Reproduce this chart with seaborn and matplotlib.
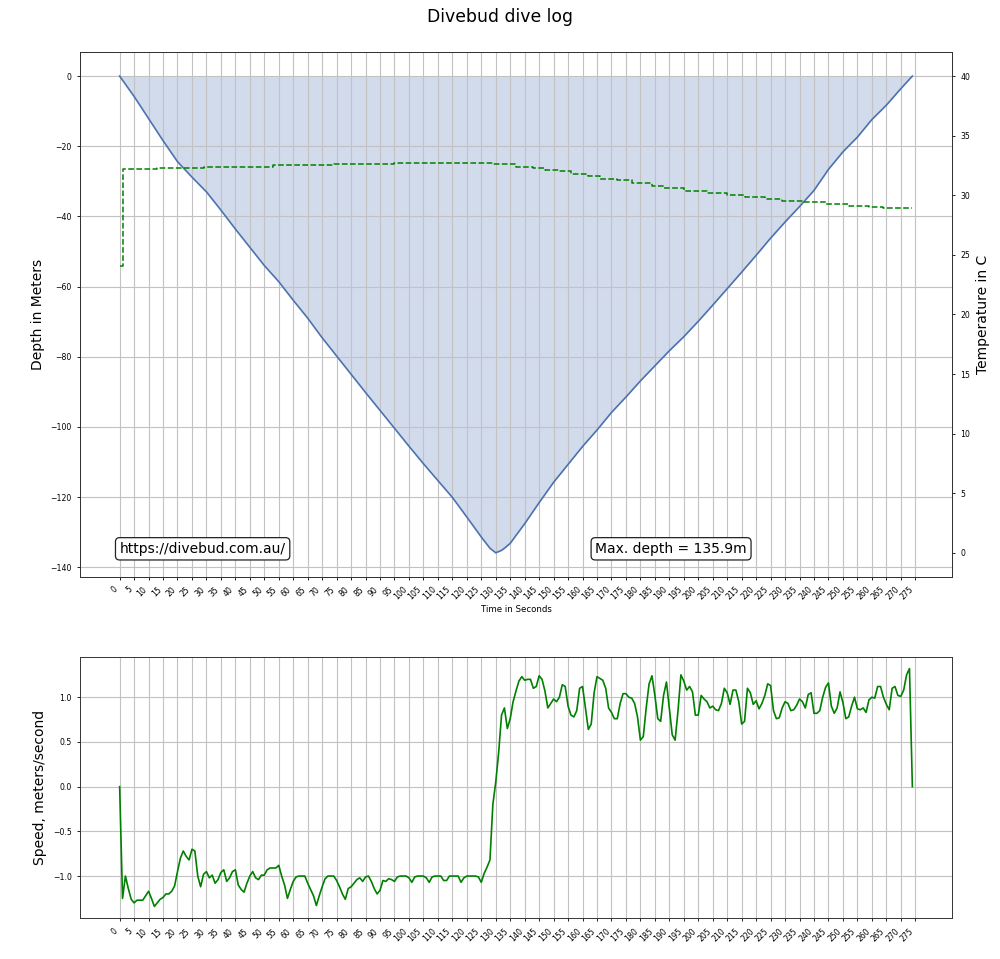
import numpy as np
import pandas as pd
import matplotlib
matplotlib.use("Agg")
import matplotlib.pyplot as plt
import seaborn as sns

# ---------------- data ----------------
depth_time = [0, 5, 10, 15, 20, 25, 30, 35, 40, 45, 50, 55, 60, 65, 70, 75, 80, 85,
              90, 95, 100, 105, 110, 115, 120, 125, 128, 130, 132, 133, 135, 140,
              145, 150, 155, 160, 165, 170, 175, 180, 185, 190, 195, 200, 205, 210,
              215, 220, 225, 230, 235, 240, 245, 250, 255, 260, 265, 270, 274]
depth_m = [0.0, -5.8, -12.1, -18.4, -24.4, -28.8, -33.0, -38.2, -43.6, -48.8, -54.0,
           -58.6, -63.9, -69.0, -74.6, -79.8, -85.0, -90.2, -95.3, -100.4, -105.5,
           -110.5, -115.3, -120.1, -125.7, -131.4, -134.6, -135.9, -135.2, -134.6,
           -133.2, -127.6, -121.6, -115.8, -110.7, -105.6, -100.9, -95.9, -91.5,
           -86.9, -82.6, -78.3, -74.3, -69.9, -65.3, -60.6, -55.9, -51.1, -46.2,
           -41.6, -37.2, -32.6, -26.6, -21.6, -17.4, -12.4, -8.3, -3.6, 0.0]

temp_time = [0, 1, 13, 29, 53, 74, 95, 129, 137, 143, 147, 152, 156, 162, 166, 172,
             177, 184, 188, 195, 203, 210, 216, 223, 229, 236, 244, 252, 259, 264, 274]
temp_c = [24.1, 32.2, 32.3, 32.4, 32.5, 32.6, 32.7, 32.6, 32.4, 32.3, 32.15, 32.0,
          31.8, 31.6, 31.4, 31.25, 31.05, 30.8, 30.6, 30.4, 30.2, 30.05, 29.85, 29.7,
          29.55, 29.4, 29.25, 29.1, 29.0, 28.9, 28.9]

speed_time = list(range(0, 275))
speed_ms = [
    0.00, -1.25, -1.00, -1.14, -1.26, -1.30, -1.27, -1.27, -1.27, -1.22,   # 0-9
    -1.17, -1.25, -1.34, -1.30, -1.26, -1.24, -1.20, -1.20, -1.17, -1.11,  # 10-19
    -0.95, -0.80, -0.72, -0.78, -0.82, -0.70, -0.72, -1.00, -1.12, -0.98,  # 20-29
    -0.95, -1.02, -0.99, -1.08, -1.04, -0.96, -0.93, -1.06, -1.02, -0.95,  # 30-39
    -0.93, -1.10, -1.15, -1.18, -1.08, -1.00, -0.95, -1.02, -1.04, -0.99,  # 40-49
    -0.99, -0.93, -0.91, -0.91, -0.91, -0.88, -1.00, -1.10, -1.25, -1.15,  # 50-59
    -1.06, -1.01, -1.00, -1.00, -1.00, -1.08, -1.15, -1.22, -1.33, -1.22,  # 60-69
    -1.12, -1.03, -1.00, -1.00, -1.00, -1.05, -1.12, -1.20, -1.26, -1.14,  # 70-79
    -1.12, -1.08, -1.04, -1.02, -1.06, -1.01, -1.00, -1.06, -1.14, -1.20,  # 80-89
    -1.16, -1.05, -1.06, -1.03, -1.04, -1.06, -1.01, -1.00, -1.00, -1.00,  # 90-99
    -1.02, -1.07, -1.01, -1.00, -1.00, -1.00, -1.02, -1.07, -1.01, -1.00,  # 100-109
    -1.00, -1.00, -1.05, -1.05, -1.00, -1.00, -1.00, -1.00, -1.07, -1.02,  # 110-119
    -1.00, -1.00, -1.00, -1.00, -1.01, -1.07, -0.97, -0.90, -0.82, -0.20,  # 120-129
    0.05, 0.38, 0.80, 0.88, 0.65, 0.76, 0.95, 1.07, 1.18, 1.23,            # 130-139
    1.19, 1.20, 1.20, 1.10, 1.12, 1.24, 1.20, 1.07, 0.88, 0.93,            # 140-149
    0.98, 0.95, 1.00, 1.14, 1.12, 0.90, 0.80, 0.78, 0.85, 1.10,            # 150-159
    1.12, 0.88, 0.64, 0.70, 1.05, 1.23, 1.21, 1.19, 1.10, 0.88,            # 160-169
    0.83, 0.76, 0.76, 0.93, 1.04, 1.04, 1.00, 0.99, 0.93, 0.78,            # 170-179
    0.52, 0.56, 0.88, 1.15, 1.24, 1.02, 0.76, 0.73, 1.02, 1.17,            # 180-189
    0.87, 0.58, 0.52, 0.85, 1.25, 1.18, 1.08, 1.12, 1.06, 0.80,            # 190-199
    0.80, 1.02, 0.98, 0.95, 0.88, 0.90, 0.86, 0.85, 0.93, 1.10,            # 200-209
    1.05, 0.92, 1.08, 1.08, 0.95, 0.70, 0.73, 1.10, 1.05, 0.92,            # 210-219
    0.96, 0.87, 0.93, 1.02, 1.15, 1.13, 0.85, 0.76, 0.77, 0.88,            # 220-229
    0.95, 0.93, 0.85, 0.86, 0.91, 0.98, 0.95, 0.88, 1.03, 1.05,            # 230-239
    0.82, 0.82, 0.85, 1.00, 1.11, 1.16, 0.90, 0.82, 0.88, 1.06,            # 240-249
    0.94, 0.76, 0.78, 0.90, 1.00, 0.87, 0.86, 0.88, 0.83, 0.97,            # 250-259
    1.00, 0.99, 1.12, 1.12, 1.00, 0.92, 0.86, 1.10, 1.12, 1.02,            # 260-269
    1.01, 1.08, 1.25, 1.32, 0.00,                                          # 270-274
]

tick_seconds = list(range(0, 276, 5))
temp_ticks = list(range(0, 41, 5))

title_text = "Divebud dive log"
url_text = "https://divebud.com.au/"

# ---------------- figure ----------------
fig = plt.figure(figsize=(10, 9.59), dpi=100)
ax = fig.add_axes([0.08, 0.3987, 0.872, 0.5468])
ax_sp = fig.add_axes([0.08, 0.0424, 0.872, 0.2728])

blue = sns.color_palette("deep")[0]
grid_kw = dict(color="#c2c2c2", linewidth=0.8)
tick_fs = 5.6

df_depth = pd.DataFrame({"t": depth_time, "d": depth_m})
df_temp = pd.DataFrame({"t": temp_time, "c": temp_c})
df_speed = pd.DataFrame({"t": speed_time, "v": speed_ms})

# depth
ax.fill_between(df_depth["t"], df_depth["d"], 0, color=blue, alpha=0.25, linewidth=0)
sns.lineplot(data=df_depth, x="t", y="d", ax=ax, color=blue, linewidth=1.2)
ax.grid(True, **grid_kw)
ax.set_xticks(tick_seconds)
ax.set_xticklabels([str(s) for s in tick_seconds], rotation=45, ha="right")
ax.set_xlabel("Time in Seconds", fontsize=6.2, labelpad=2)
ax.set_ylabel("Depth in Meters", fontsize=10)
ax.tick_params(labelsize=tick_fs, length=2.5, width=0.6)

max_depth = -min(depth_m)
box = dict(boxstyle="round", facecolor="white", edgecolor="#222222", linewidth=0.9)
ax.text(0, -max_depth, url_text, fontsize=10, bbox=box)
ax.text(0.6 * max(depth_time), -max_depth, f"Max. depth = {max_depth:.1f}m",
        fontsize=10, bbox=box)

# temperature
ax2 = ax.twinx()
sns.lineplot(data=df_temp, x="t", y="c", ax=ax2, color="green", linewidth=1.1,
             linestyle="--", drawstyle="steps-post")
ax2.set_ylim(-2, 42)
ax2.set_yticks(temp_ticks)
ax2.set_ylabel("Temperature in C", fontsize=10)
ax2.tick_params(labelsize=tick_fs, length=2.5, width=0.6)
ax2.grid(False)

# speed
sns.lineplot(data=df_speed, x="t", y="v", ax=ax_sp, color="green", linewidth=1.2)
ax_sp.grid(True, **grid_kw)
ax_sp.set_xticks(tick_seconds)
ax_sp.set_xticklabels([str(s) for s in tick_seconds], rotation=45, ha="right")
ax_sp.set_xlabel("")
ax_sp.set_ylabel("Speed, meters/second", fontsize=10)
ax_sp.tick_params(labelsize=tick_fs, length=2.5, width=0.6)

for a in (ax, ax2, ax_sp):
    for s in a.spines.values():
        s.set_color("#333333")
        s.set_linewidth(0.7)

fig.text(0.5, 1 - 8 / 959, title_text, ha="center", va="top", fontsize=12.4)

fig.savefig("out.png", dpi=100)
